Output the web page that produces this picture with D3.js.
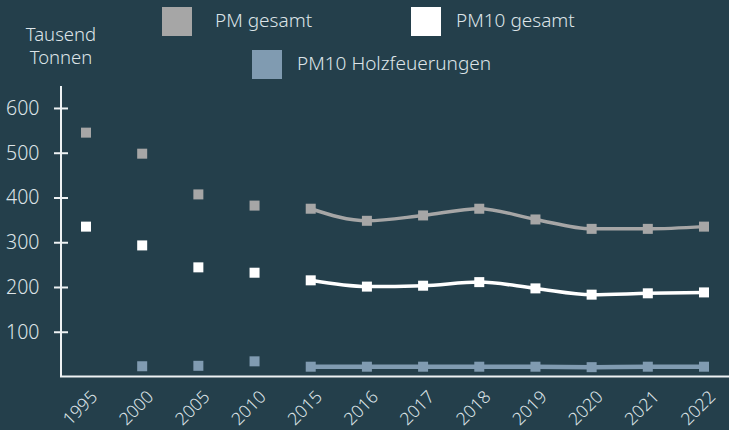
<!DOCTYPE html>
<html><head><meta charset="utf-8">
<script src="https://cdn.jsdelivr.net/npm/d3@7/dist/d3.min.js"></script>
<style>
html,body{margin:0;padding:0;background:#243f4b;}
svg{display:block;}
text{font-family:"Noto Sans","Open Sans",sans-serif;font-weight:300;fill:#dde4e8;}
</style></head>
<body><svg id="c" width="729" height="430"></svg>
<script>
const years = ["1995","2000","2005","2010","2015","2016","2017","2018","2019","2020","2021","2022"];
const pmGesamt   = [546, 499, 408, 383, 376, 349, 361, 376, 352, 331, 331, 336];
const pm10Gesamt = [336, 294, 245, 233, 216, 202, 204, 212, 198, 184, 187, 189];
const pm10Holz   = [null, 24, 25, 35, 23, 23, 23, 23, 23, 22, 23, 23];
const yTicks = [100, 200, 300, 400, 500, 600];
const seriesNames = ["PM gesamt", "PM10 gesamt", "PM10 Holzfeuerungen"];
const lineFrom = "2015";

const colors = ["#a6a6a6", "#ffffff", "#809bb1"];
const widths = [3.5, 3.5, 4.5];
const svg = d3.select("#c");
svg.append("rect").attr("width",729).attr("height",430).attr("fill","#243f4b");

const x = d3.scalePoint().domain(years).range([86, 704]);
const y = d3.scaleLinear().domain([0, 650]).range([377, 86.1]);

// axes
const axisCol = "#eef2f4";
svg.append("line").attr("x1",61).attr("x2",61).attr("y1",y(650)).attr("y2",377).attr("stroke",axisCol).attr("stroke-width",2);
svg.append("line").attr("x1",60).attr("x2",729).attr("y1",376.5).attr("y2",376.5).attr("stroke",axisCol).attr("stroke-width",2);
const yt = svg.append("g");
yTicks.forEach(t=>{
  yt.append("line").attr("x1",54).attr("x2",68).attr("y1",y(t)).attr("y2",y(t)).attr("stroke",axisCol).attr("stroke-width",2);
  yt.append("text").attr("x",39.5).attr("y",y(t)+6.5).attr("text-anchor","end").style("font-size","19.5px").text(t);
});
years.forEach(yr=>{
  svg.append("text").attr("text-anchor","end").style("font-size","17.5px")
    .attr("transform",`translate(${x(yr)+12.5},398) rotate(-45)`).text(yr);
});
// unit label
svg.append("text").attr("x",61).attr("y",40.5).attr("text-anchor","middle").style("font-size","18.5px").text("Tausend");
svg.append("text").attr("x",61).attr("y",63.5).attr("text-anchor","middle").style("font-size","18.5px").text("Tonnen");

// legend
const leg = [{x:162,y:7,tx:215,ty:27.3},{x:411,y:7,tx:456,ty:27.3},{x:252,y:50,tx:297,ty:69.5}];
leg.forEach((l,i)=>{
  svg.append("rect").attr("x",l.x).attr("y",l.y).attr("width",30).attr("height",29).attr("fill",colors[i]);
  svg.append("text").attr("x",l.tx).attr("y",l.ty).style("font-size","19px").text(seriesNames[i]);
});

// series
const all = [pmGesamt, pm10Gesamt, pm10Holz];
const startIdx = years.indexOf(lineFrom);
all.forEach((vals,i)=>{
  const data = years.map((yr,j)=>({yr, v: vals[j]})).filter(d=>d.v!==null);
  const lineData = data.filter(d=>years.indexOf(d.yr)>=startIdx);
  svg.append("path").datum(lineData)
    .attr("d", d3.line().x(d=>x(d.yr)).y(d=>y(d.v)).curve(d3.curveMonotoneX))
    .attr("fill","none").attr("stroke",colors[i]).attr("stroke-width",widths[i]);
  svg.append("g").selectAll("rect").data(data).join("rect")
    .attr("x",d=>x(d.yr)-5).attr("y",d=>y(d.v)-5).attr("width",10).attr("height",10)
    .attr("fill",colors[i]);
});
</script></body></html>
